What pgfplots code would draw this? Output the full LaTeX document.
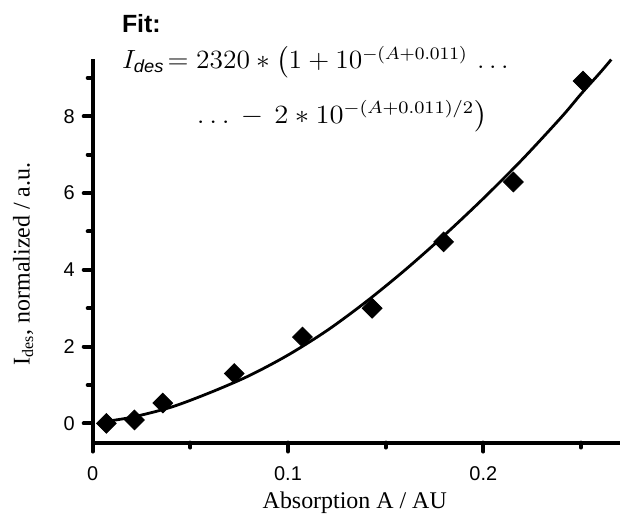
\documentclass[border=0pt]{standalone}
\usepackage{amsmath}
\usepackage{fontspec}
\setmainfont{Liberation Serif}
\newfontfamily\arial{Liberation Sans}
\usepackage{pgfplots}
\pgfplotsset{compat=1.18}

\begin{document}
\begin{tikzpicture}
\begin{axis}[
    scale only axis,
    width=264.5pt, height=192.5pt,
    xmin=0, xmax=0.27,
    ymin=-0.5, ymax=9.5,
    axis x line*=bottom,
    axis y line*=left,
    axis line style={line width=2pt, -},
    xtick={0,0.1,0.2},
    xticklabels={0,0.1,0.2},
    minor xtick={0.05,0.15,0.25},
    ytick={0,2,4,6,8},
    minor ytick={1,3,5,7,9},
    tick align=outside,
    major tick length=4.5pt,
    minor tick length=2.5pt,
    major tick style={line width=2pt, black, line cap=round},
    minor tick style={line width=2pt, black, line cap=round},
    tick label style={font=\fontsize{10}{12}\arial},
    xticklabel style={yshift=-4pt},
    yticklabel style={xshift=-1pt},
    /pgf/number format/assume math mode=true,
    xlabel={Absorption A / AU},
    ylabel={I\textsubscript{des}, normalized / a.u.},
    label style={font=\fontsize{12}{14}\selectfont},
    xlabel style={at={(axis description cs:0.497,-0.158)}, anchor=center},
    ylabel style={at={(axis description cs:-0.132,0.465)}, anchor=center},
    clip=false,
]
% canvas of the reference
\path (axis description cs:-0.1758,-0.1922) rectangle (axis description cs:1.0,1.1532);
% fitted curve
\addplot[line width=1.4pt, smooth, no marks] coordinates {
    (0.005,0.04) (0.02,0.16) (0.04,0.42) (0.06,0.80) (0.08,1.24)
    (0.10,1.78) (0.12,2.42) (0.14,3.17) (0.16,4.00) (0.18,4.90)
    (0.20,5.86) (0.22,6.88) (0.24,7.98) (0.25,8.58) (0.26,9.15) (0.2655,9.48)
};
% measured points
\addplot[only marks, mark=square*, mark size=3.5pt, mark options={rotate=45, fill=black}] coordinates {
    (0.0070,0.00) (0.0214,0.09) (0.0359,0.53) (0.0725,1.30) (0.1074,2.25)
    (0.1431,3.00) (0.1797,4.73) (0.2154,6.29) (0.2511,8.92)
};
\node[anchor=base west, inner sep=0pt, font=\fontsize{12.5}{14}\arial\bfseries] at (axis cs:0.0148,10.18) {Fit:};
\node[anchor=base west, inner sep=0pt, font=\fontsize{12}{14}\selectfont] at (axis cs:0.0148,9.24)
    {\scalebox{1.15}[1.1]{$I_{\textit{\arial des}}\!=2320\ast\big(1+10^{-(A+0.011)}\,\ldots$}};
\node[anchor=base west, inner sep=0pt, font=\fontsize{12}{14}\selectfont] at (axis cs:0.0531,7.82)
    {\scalebox{1.2}[1.1]{$\ldots\,-\,2\ast10^{-(A+0.011)/2}\big)$}};
\end{axis}
\end{tikzpicture}
\end{document}
